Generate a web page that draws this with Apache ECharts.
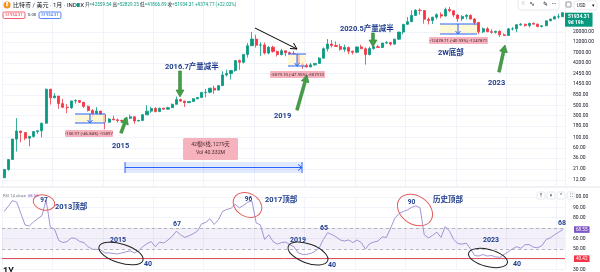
<!DOCTYPE html>
<html><head><meta charset="utf-8">
<script src="https://cdn.jsdelivr.net/npm/echarts@6/dist/echarts.min.js"></script>
<style>html,body{margin:0;padding:0;background:#fff}#c{width:600px;height:272px}</style>
</head><body><div id="c"></div>
<script>
// ---------------- DATA ----------------
const months = [
'2013-01','2013-02','2013-03','2013-04','2013-05','2013-06','2013-07','2013-08','2013-09','2013-10','2013-11','2013-12',
'2014-01','2014-02','2014-03','2014-04','2014-05','2014-06','2014-07','2014-08','2014-09','2014-10','2014-11','2014-12',
'2015-01','2015-02','2015-03','2015-04','2015-05','2015-06','2015-07','2015-08','2015-09','2015-10','2015-11','2015-12',
'2016-01','2016-02','2016-03','2016-04','2016-05','2016-06','2016-07','2016-08','2016-09','2016-10','2016-11','2016-12',
'2017-01','2017-02','2017-03','2017-04','2017-05','2017-06','2017-07','2017-08','2017-09','2017-10','2017-11','2017-12',
'2018-01','2018-02','2018-03','2018-04','2018-05','2018-06','2018-07','2018-08','2018-09','2018-10','2018-11','2018-12',
'2019-01','2019-02','2019-03','2019-04','2019-05','2019-06','2019-07','2019-08','2019-09','2019-10','2019-11','2019-12',
'2020-01','2020-02','2020-03','2020-04','2020-05','2020-06','2020-07','2020-08','2020-09','2020-10','2020-11','2020-12',
'2021-01','2021-02','2021-03','2021-04','2021-05','2021-06','2021-07','2021-08','2021-09','2021-10','2021-11','2021-12',
'2022-01','2022-02','2022-03','2022-04','2022-05','2022-06','2022-07','2022-08','2022-09','2022-10','2022-11','2022-12',
'2023-01','2023-02','2023-03','2023-04','2023-05','2023-06','2023-07','2023-08','2023-09','2023-10','2023-11','2023-12',
'2024-01','2024-02'];

// [open, close, low, high]
const candles = [
[13.5,20.4,13.2,20.9],[20.4,33.4,19.1,33.9],[33.4,93.0,33.0,95.0],[93.0,139.2,50.0,266.0],[139.2,129.0,80.0,140.0],[129.0,97.5,88.0,130.0],[97.5,106.2,65.0,110.0],[106.2,135.4,100.0,140.0],[135.4,141.0,120.0,145.0],[141.0,206.0,101.0,213.0],[206.0,1128.0,200.0,1163.0],[1128.0,732.0,522.0,1150.0],
[732,803,730,918],[803,550,422,803],[550,457,440,700],[457,448,340,540],[448,628,420,632],[628,640,550,680],[640,586,570,660],[586,478,440,600],[478,388,370,500],[388,338,275,420],[338,378,310,460],[378,319,310,380],
[319,217,152,320],[217,254,212,265],[254,244,240,300],[244,236,215,260],[236,230,225,247],[230,263,220,270],[263,284,253,318],[284,230,200,287],[230,236,226,245],[236,314,236,328],[314,377,310,505],[377,430,345,467],
[430,368,355,460],[368,437,365,448],[437,416,400,440],[416,448,412,470],[448,531,442,550],[531,673,530,780],[673,624,600,705],[624,575,465,630],[575,609,570,625],[609,700,605,720],[700,742,685,758],[742,963,738,980],
[963,970,750,1150],[970,1190,918,1200],[1190,1080,890,1350],[1080,1350,1060,1355],[1350,2300,1345,2760],[2300,2480,2130,3000],[2480,2875,1830,2920],[2875,4735,2700,4760],[4735,4340,2970,4980],[4340,6450,4100,6470],[6450,9950,5500,11400],[9950,13860,10400,19800],
[13860,10220,9050,17200],[10220,10330,5900,11780],[10330,6920,6430,11700],[6920,9240,6430,9760],[9240,7490,7030,9990],[7490,6390,5780,7780],[6390,7730,6130,8490],[7730,7020,5880,7760],[7020,6630,6100,7410],[6630,6370,6200,7680],[6370,4020,3500,6600],[4020,3690,3150,4320],
[3690,3440,3350,4070],[3440,3820,3380,4200],[3820,4100,3670,4140],[4100,5320,4080,5650],[5320,8570,5300,9090],[8570,10820,7450,13880],[10820,10080,9080,13150],[10080,9590,9330,12330],[9590,8290,7730,10950],[8290,9150,7300,10540],[9150,7550,6520,9510],[7550,7190,6430,7750],
[7190,9350,6860,9580],[9350,8540,8440,10500],[8540,6410,3850,9190],[6410,8630,6150,9460],[8630,9450,8120,10070],[9450,9140,8900,10380],[9140,11350,8920,11440],[11350,11650,11000,12470],[11650,10780,9900,12060],[10780,13800,10400,14100],[13800,19710,13200,19870],[19710,28990,17600,29300],
[28990,33110,28130,41950],[33110,45200,32300,58350],[45200,58800,45000,61800],[58800,57720,47000,64900],[57720,37300,30000,59600],[37300,35040,28800,41300],[35040,41460,29300,42400],[41460,47130,37300,50500],[47130,43820,39600,52900],[43820,61300,43300,67000],[61300,56950,53250,69000],[56950,46200,42000,59100],
[46200,38480,32950,47990],[38480,43160,34320,45820],[43160,45510,37160,48240],[45510,37710,37580,47440],[37710,31790,26700,39980],[31790,19930,17600,31990],[19930,23310,18780,24670],[23310,20050,19600,25210],[20050,19430,18150,22790],[19430,20490,18190,20990],[20490,17170,15480,21480],[17170,16550,16260,18390],
[16550,23140,16500,23960],[23140,23150,21350,25250],[23150,28470,19570,29190],[28470,29250,26940,31000],[29250,27220,25810,29820],[27220,30470,24800,31390],[30470,29230,28860,31800],[29230,25940,25160,30180],[25940,26970,24900,27480],[26970,34640,26560,35200],[34640,37720,34100,38420],[37720,42280,37600,44730],
[42280,42580,38500,48970],[42559.54,51934.31,41866.89,52829.25]];

const rsi = [
86,91,96.5,95,84,73,72,76,79,82,97,71,
69,58,56,57,60.5,60,57,56,52,49.5,49.5,49,
46,46,45.5,45,46,47,48,46,48,52,55,57,
52,56.5,55.5,58.5,62,67,63.5,61,62.5,64.5,67,74,
75.5,79,73.5,78,86,88,89,93,89.5,92,95,96,
75,73,59,63.5,57,54.5,56,56.5,54,52,46,44.6,
44.6,45.5,47.5,51,59,65.5,63.8,61.5,58.5,57.5,58.5,56,
58.5,56,49.8,55,56.5,57.5,61.5,61,70,79.5,84,86,
87.5,90,91.5,89.5,63.5,60.5,63,66,61,71.5,67,59,
55,54.5,55.5,50,43.5,43,44.5,43,43.5,42.2,41.7,44.5,
47,50,52,50.5,54,54,51.5,51,53,58.8,60.6,63.5,
66,68.55];

const priceTicks = [12,21,36,60,100,180,300,500,850,1450,2450,4200,7000,12000,20000];
const lastClose = 51934.31;
const rsiLast = 68.55;
const rsiUpper = 70, rsiLower = 50, supportLine = 40.42;

// ---------------- STYLE HELPERS ----------------
const FONT = 'Roboto, "Noto Sans CJK SC", "Noto Sans", sans-serif';
const NAVY = '#1f3d8c';
function T(x,y,text,size,color,weight,align,valign,extra){
  const st = {text:text, fill:color, font:(weight||'normal')+' '+size+'px '+FONT,
    align:align||'left', verticalAlign:valign||'middle', textAlign:align||'left', textVerticalAlign:valign||'middle'};
  if (extra) Object.assign(st, extra);
  return {type:'text', x:x, y:y, z:100, silent:true, style:st};
}
function R(x,y,w,h,fill,stroke,r,z){
  return {type:'rect', z:z||90, silent:true, shape:{x:x,y:y,width:w,height:h,r:r||0},
    style:{fill:fill||'none', stroke:stroke||'none', lineWidth:stroke?0.8:0}};
}
function L(x1,y1,x2,y2,color,w,dash){
  return {type:'line', z:95, silent:true, shape:{x1:x1,y1:y1,x2:x2,y2:y2}, style:{stroke:color, lineWidth:w||1, lineDash:dash||null}};
}
function PL(points,color,w){
  return {type:'polyline', z:95, silent:true, shape:{points:points}, style:{stroke:color, lineWidth:w||1, fill:'none'}};
}
function E(cx,cy,rx,ry,rot,color){
  return {type:'ellipse', z:96, silent:true, x:cx, y:cy, rotation:rot, shape:{cx:0,cy:0,rx:rx,ry:ry},
    style:{fill:'none', stroke:color, lineWidth:1}};
}
function GA(x1,y1,x2,y2){ // green arrow tail->head
  const dx=x2-x1, dy=y2-y1, Ln=Math.hypot(dx,dy), ux=dx/Ln, uy=dy/Ln, px=-uy, py=ux;
  const hw=4, hl=7, sw=1.4;
  const bx=x2-ux*hl, by=y2-uy*hl;
  const pts=[[x1+px*sw,y1+py*sw],[bx+px*sw,by+py*sw],[bx+px*hw,by+py*hw],[x2,y2],[bx-px*hw,by-py*hw],[bx-px*sw,by-py*sw],[x1-px*sw,y1-py*sw]];
  return {type:'polygon', z:99, silent:true, shape:{points:pts}, style:{fill:'#43a047', stroke:'#2e7d32', lineWidth:0.6}};
}
function pink(cx,cy,w,h,text){
  return [R(cx-w/2,cy-h/2,w,h,'#f6b2bd',null,1,97), T(cx,cy+0.3,text,4.3,'#4a2a31','normal','center')];
}
function measure(x1,x2,y1,y2,ax){
  return [R(x1,y1,x2-x1,y2-y1,'rgba(255,246,200,0.75)',null,0,80),
    L(x1,y1,x2,y1,'#2962ff',1), L(x1,y2,x2,y2,'#2962ff',1),
    L(ax,y1,ax,y2,'#2962ff',1), PL([[ax-2.5,y2-3],[ax,y2],[ax+2.5,y2-3]],'#2962ff',1)];
}

const g = [];
// header
g.push({type:'circle', z:100, silent:true, shape:{cx:7,cy:5,r:3.5}, style:{fill:'#f7931a'}});
g.push(T(7,5.2,'₿',4.5,'#fff','bold','center'));
g.push(T(13,5,'比特币 / 美元 · 1月 · INDEX',6,'#131722'));
g.push({type:'circle', z:100, silent:true, shape:{cx:78,cy:5,r:1.8}, style:{fill:'#089981'}});
g.push(T(85,5,'{a|开}{b|=42559.54} {a|高}{b|=52829.25} {a|低}{b|=41866.89} {a|收}{b|=51934.31 +9374.77 (+22.02%)}',4.6,'#089981','normal','left','middle',
  {rich:{a:{fill:'#131722', fontSize:4.6, fontFamily:FONT}, b:{fill:'#089981', fontSize:4.6, fontFamily:FONT}}}));
g.push(R(3,12,22,6.5,'#fff','#f23645',1.5)); g.push(T(14,15.4,'51934.31',4.2,'#f23645','normal','center'));
g.push(T(28,15.4,'0.00',4.2,'#131722'));
g.push(R(39,12,22,6.5,'#fff','#2962ff',1.5)); g.push(T(50,15.4,'51934.31',4.2,'#2962ff','normal','center'));
// top right toolbar
g.push(R(518,-3,41,13,'#fff','#e0e3eb',3));
g.push(T(522,4,'⁞⁞',5,'#b2b5be'));
g.push(T(532,4,'∿',7,'#131722','normal','center'));
g.push(T(545,4,'✎',6,'#131722','normal','center'));
g.push(T(554,4,'···',5,'#131722','bold','center'));
g.push(R(566,2,5,5,'none','#787b86',0.5));
g.push(R(574,1,23,9,'#fff','#e0e3eb',2));
g.push(T(577,5.5,'USD',4.5,'#131722'));
g.push(T(593,5.5,'▾',4.5,'#131722','normal','center'));

// price chart annotations
g.push(...measure(75,105,114,123,90));
g.push(...pink(89,133.5,48,7,'-150.97 (-46.84%) -15097'));
g.push(T(112,146,'2015',7.5,NAVY,'bold'));
g.push(GA(121,133,127,117));
g.push(T(165,67,'2016.7产量减半',7.5,NAVY,'bold'));
g.push(GA(180,71,180,97));
// bars range
g.push(R(125,162,177,11,'rgba(41,98,255,0.14)',null,0,80));
g.push(L(125,162,125,173,'#2962ff',1)); g.push(L(302,162,302,173,'#2962ff',1));
g.push(L(125,167.5,302,167.5,'#2962ff',1.2));
g.push(PL([[298,164.5],[302,167.5],[298,170.5]],'#2962ff',1));
g.push(R(183,138,55,22,'#f6b2bd',null,1.5,97));
g.push(T(210.5,145,'42根K线, 1279天',5.2,'#4a2a31','normal','center'));
g.push(T(210.5,153,'Vol 40.332M',5.2,'#4a2a31','normal','center'));
// 2018 decline
g.push(L(255,28,297,49,'#000',1));
g.push(PL([[290,48.5],[297,49],[293.5,43]],'#000',1));
g.push(...measure(288,306,54,66,297));
g.push(...pink(297.5,74.5,55,7,'-3079.10 (-47.95%) -307910'));
g.push(T(274,116,'2019',7.5,NAVY,'bold'));
g.push(GA(297,110,307,75));
g.push(T(340,29,'2020.5产量减半',7.5,NAVY,'bold'));
g.push(GA(373,33,373,47));
// 2W bottom
g.push(...measure(440,477,24,34,458));
g.push(...pink(458.5,40.5,59,7,'-12478.71 (-40.93%) -1247871'));
g.push(T(438,53,'2W底部',7.5,NAVY,'bold'));
g.push(T(488,83,'2023',7.5,NAVY,'bold'));
g.push(GA(499,72,505,45));

// pane separator
g.push(L(0,187,600,187,'#e0e3eb',1));
// RSI header & icons
g.push(T(3,196,'RSI 14 close',4.2,'#787b86'));
g.push(T(28,196,'68.55',4.2,'#7e57c2'));
[541,551,561,571].forEach((x,i)=>{ g.push(R(x-4,192,8,7,'#fff','#e0e3eb',1.5)); g.push(T(x,195.8,['↑','×','⌃','⛶'][i],4.5,'#131722','normal','center')); });
// RSI annotations
g.push(E(44,202.5,11,7.5,-0.25,'#e35d5d'));
g.push(T(44,200,'97',6.5,NAVY,'bold','center'));
g.push(T(55,207,'2013顶部',7.5,NAVY,'bold'));
g.push(E(247.5,205,15,11.5,-0.5,'#e35d5d'));
g.push(T(248.5,199.5,'96',6.5,NAVY,'bold','center'));
g.push(T(265,200,'2017顶部',7.5,NAVY,'bold'));
g.push(E(415,210,19,14,-0.6,'#e35d5d'));
g.push(T(411.5,202,'90',6.5,NAVY,'bold','center'));
g.push(T(433,200,'历史顶部',7.5,NAVY,'bold'));
g.push(E(121,253.5,23,9.5,-0.3,'#222'));
g.push(T(110,240,'2015',7,NAVY,'bold'));
g.push(T(144,264,'40',7,NAVY,'bold'));
g.push(T(173,224,'67',7,NAVY,'bold'));
g.push(E(308,253.5,21,9.5,-0.35,'#222'));
g.push(T(290,240,'2019',7,NAVY,'bold'));
g.push(T(320,228,'65',7,NAVY,'bold'));
g.push(T(328,265,'40',7,NAVY,'bold'));
g.push(E(488,258,20,8.5,-0.25,'#222'));
g.push(T(483,240,'2023',7,NAVY,'bold'));
g.push(T(513,264,'40',7,NAVY,'bold'));
g.push(T(558,223,'68',7,NAVY,'bold'));
g.push(T(3,272,'1Y',9,'#131722','bold'));

const splitX = {show:true, interval:(i)=> i % 12 === 0, lineStyle:{color:'#f0f3fa', width:1}};
const HIDE = 'rgba(0,0,0,0)';

const chart = echarts.init(document.getElementById('c'), null, {renderer:'canvas'});
chart.setOption({
  animation:false,
  backgroundColor:'#fff',
  textStyle:{fontFamily:FONT},
  grid:[{left:2,right:35,top:0,height:186},{left:2,right:35,top:197,height:73}],
  xAxis:[
    {type:'category', gridIndex:0, data:months, boundaryGap:true, axisLine:{show:false}, axisTick:{show:false}, axisLabel:{show:false}, splitLine:splitX},
    {type:'category', gridIndex:1, data:months, boundaryGap:true, axisLine:{show:false}, axisTick:{show:false}, axisLabel:{show:false}, splitLine:splitX}
  ],
  yAxis:[
    {type:'log', gridIndex:0, logBase:10, min:8.9, max:98000, position:'right', axisLine:{show:false}, axisTick:{show:false}, axisLabel:{show:false}, splitLine:{show:false}},
    {type:'value', gridIndex:1, min:30, max:100, interval:10, position:'right', axisLine:{show:false}, axisTick:{show:false},
      axisLabel:{margin:8, fontSize:5, color:'#131722', fontFamily:FONT, formatter:(v)=> (v===70||v===40)?'':v.toFixed(2)},
      splitLine:{show:true, lineStyle:{color:'#f0f3fa', width:1}}}
  ],
  series:[
    {type:'candlestick', xAxisIndex:0, yAxisIndex:0, data:candles, barWidth:2.6, clip:false,
      itemStyle:{color:'#089981', color0:'#f23645', borderColor:'#089981', borderColor0:'#f23645', borderWidth:0.8},
      markLine:{z:1, silent:true, symbol:['none','none'], animation:false,
        lineStyle:{color:'#f0f3fa', width:1, type:'solid'},
        label:{position:'end', distance:8, fontSize:5, color:'#131722', fontFamily:FONT, formatter:(p)=>Number(p.value).toFixed(2)},
        data: priceTicks.map(v=>({yAxis:v})).concat([
          {yAxis:lastClose, lineStyle:{color:HIDE, width:0}, label:{distance:0, offset:[0,7], formatter: lastClose.toFixed(2)+'\n9d 19h', backgroundColor:'#089981', color:'#fff', fontSize:5, lineHeight:6, padding:[1,3,1,3], fontWeight:'bold'}}
        ])}
    },
    {type:'line', xAxisIndex:1, yAxisIndex:1, data:rsi, showSymbol:false, clip:false,
      lineStyle:{color:'#9a88d0', width:0.9},
      markArea:{silent:true, itemStyle:{color:'rgba(126,87,194,0.09)'}, data:[[{yAxis:rsiLower},{yAxis:rsiUpper}]]},
      markLine:{silent:true, symbol:['none','none'], animation:false, label:{show:false},
        data:[
          {yAxis:rsiUpper, lineStyle:{color:'#a3a6af', type:[3,3], width:0.8}},
          {yAxis:rsiLower, lineStyle:{color:'#a3a6af', type:[3,3], width:0.8}},
          {yAxis:supportLine, lineStyle:{color:'#e0505a', type:'solid', width:1},
            label:{show:true, position:'end', distance:9, formatter:supportLine.toFixed(2), backgroundColor:'#f23645', color:'#fff', fontSize:4.6, padding:[1,2,1,2], fontFamily:FONT}},
          {yAxis:rsiLast, lineStyle:{color:HIDE, width:0},
            label:{show:true, position:'end', distance:9, formatter:rsiLast.toFixed(2), backgroundColor:'#7e57c2', color:'#fff', fontSize:4.6, padding:[1,2,1,2], fontFamily:FONT}}
        ]}
    }
  ],
  graphic:{elements:g}
});
</script>
</body></html>
